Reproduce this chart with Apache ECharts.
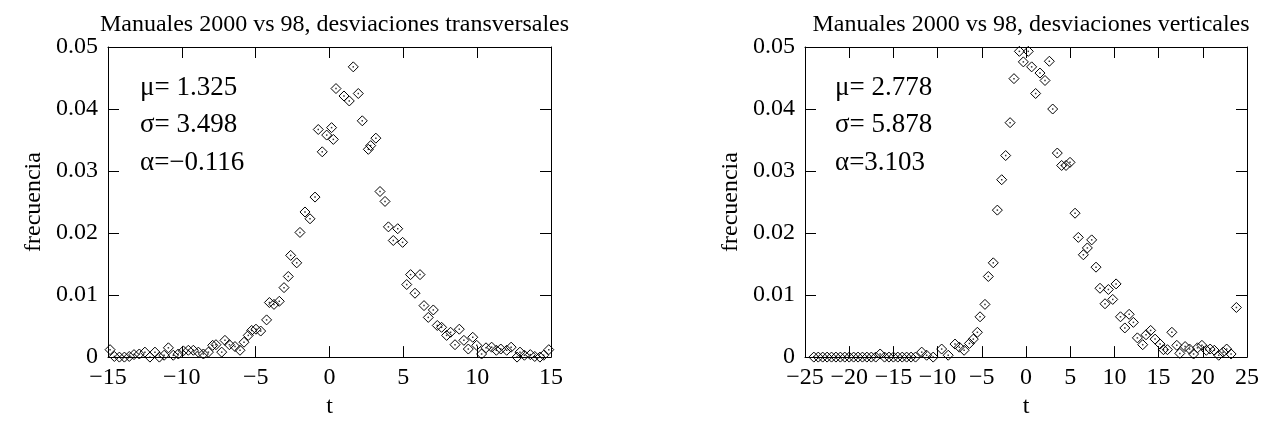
<!DOCTYPE html>
<html lang="es">
<head>
    <meta charset="UTF-8">
    <title>Manuales 2000 vs 98</title>
    <script src="https://cdn.jsdelivr.net/npm/echarts@6/dist/echarts.min.js"></script>
    <style>
        html, body { margin: 0; padding: 0; background: #fff; }
        #fig { width: 1267px; height: 424px; }
    </style>
</head>
<body>
<div id="fig"></div>
<script>
    // desviaciones transversales
    let tTrans = [-14.86, -14.57, -14.23, -13.89, -13.56, -13.24, -12.88, -12.5, -12.16, -11.82,
        -11.52, -11.2, -10.91, -10.58, -10.24, -9.9, -9.56, -9.22, -8.88, -8.54,
        -8.2, -7.91, -7.69, -7.3, -7.08, -6.78, -6.4, -6.06, -5.79, -5.5,
        -5.27, -4.98, -4.66, -4.26, -4.07, -3.76, -3.4, -3.08, -2.79, -2.63,
        -2.22, -2.0, -1.66, -1.32, -0.98, -0.76, -0.49, -0.19, 0.14, 0.26,
        0.44, 0.98, 1.34, 1.61, 1.95, 2.22, 2.63, 2.79, 3.14, 3.42,
        3.76, 3.99, 4.32, 4.62, 4.95, 5.23, 5.49, 5.79, 6.13, 6.4,
        6.69, 7.03, 7.3, 7.59, 7.93, 8.2, 8.5, 8.79, 9.1, 9.4,
        9.7, 9.97, 10.3, 10.6, 10.98, 11.3, 11.6, 12.0, 12.3, 12.7,
        12.9, 13.2, 13.6, 13.9, 14.25, 14.5, 14.85];
    let fTrans = [0.0012, 0.0001, 0, 0, 0.0001, 0.0004, 0.0005, 0.0008, 0, 0.0008,
        0, 0.0003, 0.0015, 0.0003, 0.0005, 0.001, 0.0011, 0.0011, 0.0008, 0.0005,
        0.0008, 0.0019, 0.002, 0.0008, 0.0027, 0.002, 0.0017, 0.0011, 0.0024, 0.0035,
        0.0043, 0.0045, 0.0042, 0.006, 0.0088, 0.0085, 0.009, 0.0112, 0.013, 0.0164,
        0.0152, 0.0201, 0.0234, 0.0223, 0.0258, 0.0367, 0.0331, 0.0358, 0.037, 0.0351,
        0.0433, 0.0421, 0.0413, 0.0468, 0.0425, 0.0381, 0.0335, 0.0341, 0.0353, 0.0267,
        0.0251, 0.021, 0.0188, 0.0207, 0.0185, 0.0117, 0.0133, 0.0103, 0.0133, 0.0083,
        0.0064, 0.0076, 0.0051, 0.0048, 0.0035, 0.004, 0.002, 0.0045, 0.0027, 0.0013,
        0.0032, 0.0019, 0.0005, 0.0015, 0.0016, 0.0011, 0.0013, 0.0011, 0.0016, 0,
        0.0008, 0.0003, 0.0004, 0.0001, 0, 0.0003, 0.0012];

    // desviaciones verticales
    let tVert = [-24, -23.5, -23, -22.5, -22, -21.5, -21, -20.5, -20, -19.5,
        -19, -18.5, -18, -17.5, -17, -16.5, -16, -15.5, -15, -14.5,
        -14, -13.5, -13, -12.5, -11.8, -11.24, -10.5, -9.54, -8.8, -8.03,
        -7.54, -7.0, -6.4, -5.96, -5.5, -5.2, -4.64, -4.26, -3.7, -3.24,
        -2.75, -2.3, -1.8, -1.36, -0.75, -0.3, 0.26, 0.64, 1.09, 1.58,
        2.15, 2.64, 3.02, 3.54, 4.03, 4.53, 4.98, 5.55, 5.92, 6.49,
        6.94, 7.43, 7.92, 8.37, 8.94, 9.32, 9.81, 10.19, 10.69, 11.18,
        11.67, 12.15, 12.6, 13.2, 13.58, 14.1, 14.6, 15.17, 15.55, 16.0,
        16.5, 17.06, 17.4, 18.0, 18.5, 18.96, 19.4, 19.9, 20.4, 20.83,
        21.3, 21.8, 22.3, 22.7, 23.2, 23.8];
    let fVert = [0, 0, 0, 0, 0, 0, 0, 0, 0, 0,
        0, 0, 0, 0, 0, 0.0005, 0, 0, 0, 0,
        0, 0, 0, 0, 0.0008, 0.0003, 0, 0.0013, 0.0003, 0.0021,
        0.0016, 0.0011, 0.0022, 0.0029, 0.004, 0.0065, 0.0085, 0.013, 0.0152, 0.0237,
        0.0286, 0.0325, 0.0378, 0.0449, 0.0493, 0.0476, 0.0493, 0.0468, 0.0425, 0.0458,
        0.0446, 0.0477, 0.040, 0.0329, 0.0309, 0.0309, 0.0314, 0.0232, 0.0193, 0.0165,
        0.0176, 0.0189, 0.0145, 0.0111, 0.0086, 0.0109, 0.0093, 0.0118, 0.0065, 0.0047,
        0.0069, 0.0056, 0.0031, 0.002, 0.0036, 0.0043, 0.0029, 0.0021, 0.0012, 0.0012,
        0.004, 0.0019, 0.0006, 0.0017, 0.0013, 0.0005, 0.0015, 0.0019, 0.0011, 0.0013,
        0.0011, 0.0003, 0.0008, 0.0013, 0.0005, 0.008];

    let titles = ['Manuales 2000 vs 98, desviaciones transversales',
        'Manuales 2000 vs 98, desviaciones verticales'];
    let statsTrans = ['\u03bc= 1.325', '\u03c3= 3.498', '\u03b1=\u22120.116'];
    let statsVert = ['\u03bc= 2.778', '\u03c3= 5.878', '\u03b1=3.103'];
    let xRanges = [[-15, 15], [-25, 25]];

    const FONT = '"Liberation Serif", "Times New Roman", serif';

    function minus (v) {
        return String(v).replace('-', '\u2212');
    }

    function pairs (xs, ys) {
        return xs.map((x, i) => [x, ys[i]]);
    }

    let fig = echarts.init(document.getElementById('fig'), null, {renderer: 'canvas'});

    let grids = [
        {left: 108, top: 47, width: 443, height: 313},
        {left: 805, top: 47, width: 442, height: 313}
    ];
    let line = {show: true, onZero: false, lineStyle: {color: '#000', width: 1}};
    let tick = {show: true, inside: true, length: 11, lineStyle: {color: '#000', width: 1}};

    let xAxis = [], yAxis = [], series = [], title = [], graphic = [];
    let datasets = [pairs(tTrans, fTrans), pairs(tVert, fVert)];
    let stats = [statsTrans, statsVert];

    for (let g = 0; g < 2; g++) {
        // eje inferior con etiquetas y superior como espejo
        xAxis.push({
            gridIndex: g, type: 'value', position: 'bottom',
            min: xRanges[g][0], max: xRanges[g][1], interval: 5,
            name: 't', nameLocation: 'middle', nameGap: 33,
            nameTextStyle: {fontFamily: FONT, fontSize: 24, color: '#000'},
            axisLine: line, axisTick: tick, splitLine: {show: false},
            axisLabel: {fontFamily: FONT, fontSize: 24, color: '#000', margin: 9, formatter: minus}
        });
        xAxis.push({
            gridIndex: g, type: 'value', position: 'top',
            min: xRanges[g][0], max: xRanges[g][1], interval: 5,
            axisLine: line, axisTick: tick, splitLine: {show: false}, axisLabel: {show: false}
        });
        yAxis.push({
            gridIndex: g, type: 'value', position: 'left',
            min: 0, max: 0.05, interval: 0.01,
            name: 'frecuencia', nameLocation: 'middle', nameRotate: 90, nameGap: 62,
            nameTextStyle: {fontFamily: FONT, fontSize: 24, color: '#000'},
            axisLine: line, axisTick: tick, splitLine: {show: false},
            axisLabel: {fontFamily: FONT, fontSize: 24, color: '#000', margin: 10}
        });
        yAxis.push({
            gridIndex: g, type: 'value', position: 'right',
            min: 0, max: 0.05, interval: 0.01,
            axisLine: line, axisTick: tick, splitLine: {show: false}, axisLabel: {show: false}
        });

        series.push({
            type: 'scatter', xAxisIndex: g * 2, yAxisIndex: g * 2,
            data: datasets[g], symbol: 'diamond', symbolSize: 10, clip: false,
            itemStyle: {color: 'rgba(0,0,0,0)', borderColor: '#000', borderWidth: 1, opacity: 1},
            silent: true
        });
        // punto central de cada rombo
        series.push({
            type: 'scatter', xAxisIndex: g * 2, yAxisIndex: g * 2,
            data: datasets[g], symbol: 'rect', symbolSize: 1.5, clip: false,
            itemStyle: {color: '#000'}, silent: true
        });

        title.push({
            text: titles[g],
            left: grids[g].left + grids[g].width / 2, top: 8, textAlign: 'center',
            textStyle: {fontFamily: FONT, fontSize: 24, fontWeight: 'normal', color: '#000'}
        });

        for (let k = 0; k < 3; k++) {
            graphic.push({
                type: 'text',
                left: grids[g].left + (g === 0 ? 32 : 30),
                top: 74 + k * 37.5,
                style: {text: stats[g][k], font: '27px ' + FONT, fill: '#000'}
            });
        }
    }

    fig.setOption({
        animation: false,
        backgroundColor: '#fff',
        title: title,
        grid: grids,
        xAxis: xAxis,
        yAxis: yAxis,
        series: series,
        graphic: graphic
    });
</script>
</body>
</html>
